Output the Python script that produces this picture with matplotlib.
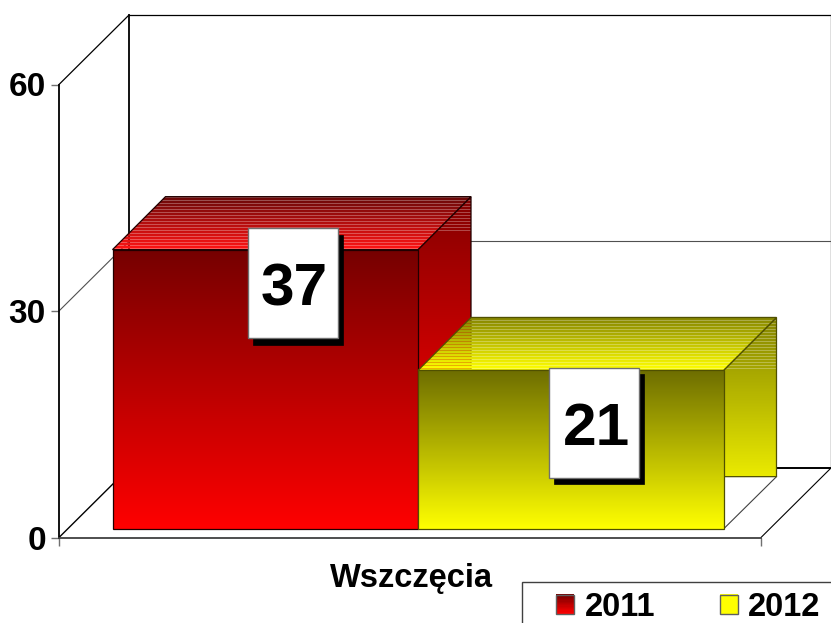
import numpy as np
import matplotlib
matplotlib.use('Agg')
import matplotlib.pyplot as plt
from matplotlib.patches import Polygon, Rectangle
from matplotlib.legend_handler import HandlerBase

# data
years = ['2011', '2012']
values = [37, 21]
category = 'Wszczęcia'
y_ticks = [0, 30, 60]
label_mid = [33.7, 15.2]  # label box centres, in axis units
label_x = [292.5, 594]    # label box centres, in pixels

# layout, x in pixels, y in axis units
W, H = 831, 623
scale = 7.55     # pixels per unit
zero_px = 537.5
unit = 1 / scale
wall_dx, wall_dy = 70, 69.5 * unit
bar_dx, bar_dy = 53, 53 * unit
bar_x0 = 112.5
bar_w = 305.5
bar_base = 8.5 * unit
axis_x0, axis_x1 = 59, 761

plt.rcParams['font.family'] = ['Liberation Sans', 'DejaVu Sans']
plt.rcParams['font.weight'] = 'bold'

fig = plt.figure(figsize=(W / 100, H / 100), dpi=100)
ax = fig.add_axes([0, 0, 1, 1])
ax.set_xlim(0, W)
ax.set_ylim(-(H - zero_px) * unit, zero_px * unit)
ax.set_autoscale_on(False)
ax.patch.set_visible(False)

for s in ['top', 'right']:
    ax.spines[s].set_visible(False)
ax.spines['left'].set_position(('data', axis_x0))
ax.spines['left'].set_bounds(0, y_ticks[-1])
ax.spines['left'].set_linewidth(1.3)
ax.spines['bottom'].set_position(('data', 0))
ax.spines['bottom'].set_bounds(axis_x0, axis_x1)
ax.spines['bottom'].set_linewidth(1.3)
ax.spines['bottom'].set_color('#404040')

ax.set_yticks(y_ticks)
ax.set_xticks([axis_x0, (axis_x0 + axis_x1) / 2 + 1, axis_x1])
ax.set_xticklabels(['', category, ''])
ax.tick_params(axis='y', length=6, width=1, color='#707070', labelsize=24, pad=3.5)
ax.tick_params(axis='x', length=6, width=1, color='#707070', labelsize=23.5, pad=12)
ax.get_xticklines()[2].set_visible(False)

# walls and floor
top = y_ticks[-1]
x_back = axis_x0 + wall_dx
x_right = axis_x1 + wall_dx
ax.plot([x_back, x_right, x_right], [top + wall_dy, top + wall_dy, wall_dy], color='k', lw=0.9, zorder=1)
ax.plot([x_back, x_back], [wall_dy, top + wall_dy], color='k', lw=1.3, zorder=1)
ax.plot([axis_x0, x_back], [top, top + wall_dy], color='k', lw=0.9, zorder=1)
ax.plot([axis_x0, x_back], [0, wall_dy], color='k', lw=1, zorder=1)
ax.plot([axis_x1, x_right], [0, wall_dy], color='k', lw=0.8, zorder=1)
ax.plot([x_back, x_right], [wall_dy, wall_dy], color='k', lw=1.4, zorder=1)
ax.plot([axis_x0, x_back, x_right], [30, 30 + wall_dy, 30 + wall_dy], color='#505050', lw=0.8, zorder=1)


def ramp(c0, c1, n, stripes=0):
    # vertical gradient, the first rows can get see-through stripes
    t = np.linspace(0, 1, n)[:, None]
    img = np.ones((n, 1, 4))
    img[:, 0, :3] = np.array(c0) * (1 - t) + np.array(c1) * t
    img[:stripes:3, :, 3] = 0.72
    return img


def face(pts, c0, c1, y_hi, y_lo, z, edge, stripes=0):
    n = int(round((y_hi - y_lo) * scale))
    xs = [p[0] for p in pts]
    im = ax.imshow(ramp(c0, c1, n, stripes), extent=(min(xs), max(xs), y_lo, y_hi), aspect='auto',
                   interpolation='nearest', zorder=z)
    poly = Polygon(pts, closed=True, fc='none', ec=edge, lw=0.9, zorder=z + 0.1)
    ax.add_patch(poly)
    im.set_clip_path(poly)


styles = [
    {'dark': (0.46, 0, 0), 'light': (1, 0, 0), 'side0': (0.52, 0, 0), 'side1': (1, 0, 0),
     'top0': (0.42, 0.03, 0.03), 'top1': (1, 0.08, 0.08), 'edge': '#200000', 'stripes': 36},
    {'dark': (0.43, 0.43, 0), 'light': (1, 1, 0), 'side0': (0.52, 0.52, 0), 'side1': (0.92, 0.92, 0),
     'top0': (0.52, 0.52, 0), 'top1': (1, 1, 0), 'edge': '#505000', 'stripes': 52},
]

for i, v in enumerate(values):
    s = styles[i]
    x0 = bar_x0 + i * bar_w
    x1 = x0 + bar_w
    y1 = bar_base + v
    z = 3 + i
    # side, reaches down to the floor level of the back of the bar
    side_lo = 60 * unit + bar_base * 0.1
    side_top = y1 + bar_dy
    face([(x1, y1), (x1 + bar_dx, side_top), (x1 + bar_dx, side_lo), (x1, side_lo)],
         s['side0'], s['side1'], side_top, side_lo, z, s['edge'], stripes=s['stripes'])
    if i == 1:
        ax.plot([x1, x1 + bar_dx], [bar_base, side_lo], color='#404040', lw=0.8, zorder=z)
    # top
    face([(x0, y1), (x0 + bar_dx, side_top), (x1 + bar_dx, side_top), (x1, y1)],
         s['top0'], s['top1'], side_top, y1, z + 0.2, s['edge'], stripes=int(bar_dx))
    # front
    face([(x0, bar_base), (x0, y1), (x1, y1), (x1, bar_base)],
         s['dark'], s['light'], y1, bar_base, z + 0.4, s['edge'])

# value labels
box_w, box_h = 90, 110 * unit
shadow_x, shadow_y = 5, 6.5 * unit
for i, v in enumerate(values):
    xc = label_x[i]
    yc = label_mid[i]
    ax.add_patch(Rectangle((xc - box_w / 2 + shadow_x, yc - box_h / 2 - shadow_y), box_w, box_h,
                           fc='k', ec='k', lw=0.5, zorder=8))
    ax.add_patch(Rectangle((xc - box_w / 2, yc - box_h / 2), box_w, box_h,
                           fc='w', ec='#707070', lw=1, zorder=8.1))
    ax.text(xc + 2, yc - 1 * unit, str(v), ha='center', va='center_baseline', fontsize=43.5, zorder=8.2)


# legend
class GradientHandle(HandlerBase):
    def __init__(self, c0, c1):
        super().__init__()
        self.c0, self.c1 = np.array(c0), np.array(c1)

    def create_artists(self, legend, orig, xd, yd, width, height, fontsize, trans):
        n = 16
        arts = []
        for k in range(n):
            t = k / (n - 1)
            y = -yd + height * (1 - (k + 1) / n)
            arts.append(Rectangle((-xd, y), width, height / n + 0.2, fc=self.c0 * (1 - t) + self.c1 * t,
                                  ec='none', transform=trans))
        arts.append(Rectangle((-xd, -yd), width, height, fc='none', ec='#606060', lw=1, transform=trans))
        return arts


box_top = (zero_px - 582) * unit
ax.add_patch(Rectangle((522, ax.get_ylim()[0] - 1), 400, box_top - ax.get_ylim()[0] + 1,
                       fc='w', ec='#404040', lw=1, zorder=9))
h1 = Rectangle((0, 0), 1, 1, label=years[0])
h2 = Rectangle((0, 0), 1, 1, label=years[1])
leg = ax.legend(handles=[h1, h2], ncol=2, frameon=False, loc='upper left', fontsize=23.5,
                bbox_to_anchor=(556, (zero_px - 592) * unit), bbox_transform=ax.transData,
                borderpad=0, borderaxespad=0, handlelength=0.56, handleheight=0.56,
                handletextpad=0.31, columnspacing=1.99,
                handler_map={h1: GradientHandle((0.46, 0, 0), (1, 0, 0)),
                             h2: GradientHandle((1, 1, 0), (1, 1, 0))})
leg.set_zorder(10)

fig.savefig('out.png', dpi=100)
